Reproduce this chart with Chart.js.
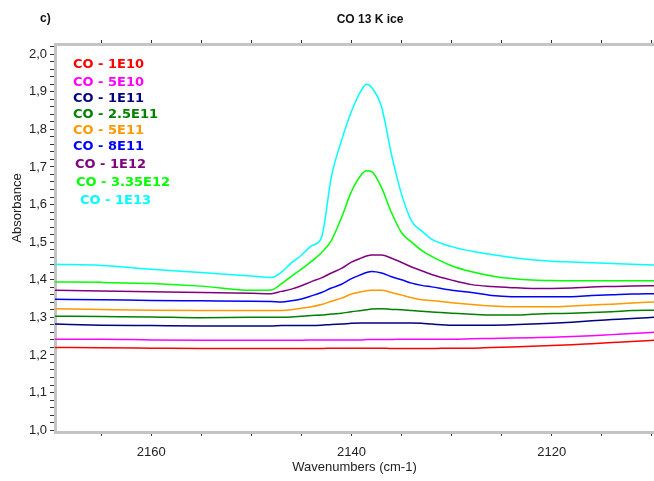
<!DOCTYPE html>
<html>
<head>
<meta charset="utf-8">
<script src="https://cdn.jsdelivr.net/npm/chart.js@4.4.1/dist/chart.umd.min.js"></script>
<style>
  body { margin: 0; background: #fff; }
  #chart { display: block; }
</style>
</head>
<body>
<canvas id="chart" width="654" height="481"></canvas>
<script>
// Spectrum data (absorbance vs wavenumber)
const wavenumbers = [2169.6, 2165, 2160, 2155, 2150, 2148, 2147, 2146, 2145, 2144, 2143, 2142, 2141, 2140, 2139, 2138.5, 2138, 2137, 2136, 2135, 2134, 2133, 2132, 2130, 2128, 2126, 2124, 2122, 2120, 2118, 2116, 2114, 2112, 2109.8];

const co1e10 = [1.220, 1.219, 1.218, 1.217, 1.217, 1.217, 1.217, 1.217, 1.217, 1.217, 1.217, 1.218, 1.218, 1.218, 1.218, 1.218, 1.218, 1.218, 1.217, 1.217, 1.217, 1.217, 1.217, 1.218, 1.218, 1.220, 1.221, 1.223, 1.225, 1.227, 1.230, 1.233, 1.236, 1.239];
const co5e10 = [1.242, 1.242, 1.240, 1.239, 1.239, 1.239, 1.239, 1.239, 1.239, 1.240, 1.240, 1.240, 1.240, 1.240, 1.240, 1.241, 1.241, 1.241, 1.241, 1.242, 1.242, 1.242, 1.242, 1.242, 1.243, 1.244, 1.245, 1.246, 1.247, 1.249, 1.251, 1.254, 1.257, 1.260];
const co1e11 = [1.282, 1.279, 1.278, 1.277, 1.277, 1.277, 1.278, 1.278, 1.278, 1.278, 1.279, 1.281, 1.282, 1.284, 1.285, 1.285, 1.285, 1.285, 1.285, 1.285, 1.285, 1.284, 1.282, 1.279, 1.279, 1.279, 1.280, 1.282, 1.284, 1.287, 1.291, 1.294, 1.297, 1.300];
const co25e11 = [1.303, 1.302, 1.301, 1.299, 1.300, 1.300, 1.300, 1.301, 1.303, 1.305, 1.306, 1.309, 1.311, 1.315, 1.318, 1.320, 1.322, 1.323, 1.321, 1.320, 1.318, 1.316, 1.314, 1.311, 1.308, 1.306, 1.306, 1.308, 1.310, 1.311, 1.313, 1.315, 1.318, 1.319];
const co5e11 = [1.323, 1.321, 1.319, 1.318, 1.318, 1.318, 1.318, 1.320, 1.324, 1.328, 1.334, 1.343, 1.351, 1.362, 1.368, 1.371, 1.372, 1.372, 1.366, 1.359, 1.352, 1.347, 1.345, 1.339, 1.334, 1.330, 1.328, 1.328, 1.328, 1.330, 1.333, 1.335, 1.338, 1.341];
const co8e11 = [1.348, 1.347, 1.345, 1.344, 1.343, 1.342, 1.341, 1.344, 1.349, 1.357, 1.366, 1.378, 1.388, 1.403, 1.414, 1.419, 1.422, 1.418, 1.408, 1.400, 1.391, 1.385, 1.381, 1.372, 1.366, 1.358, 1.355, 1.355, 1.355, 1.355, 1.358, 1.360, 1.362, 1.363];
const co1e12 = [1.372, 1.370, 1.368, 1.366, 1.364, 1.363, 1.369, 1.375, 1.384, 1.395, 1.405, 1.418, 1.430, 1.447, 1.458, 1.463, 1.466, 1.466, 1.457, 1.446, 1.434, 1.424, 1.414, 1.399, 1.387, 1.382, 1.379, 1.377, 1.377, 1.378, 1.381, 1.382, 1.383, 1.384];
const co335e12 = [1.394, 1.393, 1.390, 1.383, 1.372, 1.373, 1.389, 1.409, 1.428, 1.449, 1.472, 1.505, 1.565, 1.635, 1.680, 1.690, 1.688, 1.645, 1.578, 1.525, 1.500, 1.478, 1.462, 1.437, 1.421, 1.410, 1.403, 1.399, 1.398, 1.397, 1.397, 1.397, 1.397, 1.397];
const co1e13 = [1.441, 1.438, 1.428, 1.419, 1.410, 1.406, 1.420, 1.445, 1.465, 1.490, 1.512, 1.675, 1.770, 1.848, 1.905, 1.920, 1.912, 1.860, 1.732, 1.627, 1.556, 1.530, 1.508, 1.488, 1.476, 1.467, 1.459, 1.453, 1.449, 1.447, 1.445, 1.443, 1.441, 1.439];

const seriesNames = ["CO - 1E10", "CO - 5E10", "CO - 1E11", "CO - 2.5E11", "CO - 5E11", "CO - 8E11", "CO - 1E12", "CO - 3.35E12", "CO - 1E13"];
const seriesValues = [co1e10, co5e10, co1e11, co25e11, co5e11, co8e11, co1e12, co335e12, co1e13];
const seriesColors = ["#ff0000", "#ff00ff", "#000080", "#008000", "#ff9900", "#0000ff", "#800080", "#00ff00", "#00ffff"];

const chartTitle = "CO 13 K ice";
const panelLabel = "c)";
const xTitle = "Wavenumbers (cm-1)";
const yTitle = "Absorbance";

// legend text positions (left x, middle y)
const legendX = [73, 73, 73, 73, 73, 73, 75, 76, 80];
const legendY = [65, 83, 99, 115, 131, 147, 165, 183, 201];

const datasets = seriesValues.map((vals, i) => ({
  label: seriesNames[i],
  data: vals.map((v, j) => ({ x: wavenumbers[j], y: v })),
  borderColor: seriesColors[i],
  borderWidth: 1.5,
  pointRadius: 0,
  cubicInterpolationMode: "monotone",
  fill: false,
}));

// draws the panel label, title, y axis title and the coloured legend text
const textPlugin = {
  id: "textPlugin",
  afterDraw(chart) {
    const ctx = chart.ctx;
    ctx.save();
    ctx.fillStyle = "#111";
    ctx.textBaseline = "middle";
    ctx.font = "bold 12px 'Liberation Sans', Arial, sans-serif";
    ctx.textAlign = "left";
    ctx.fillText(panelLabel, 40, 19);
    ctx.textAlign = "center";
    ctx.fillText(chartTitle, 370, 20);

    ctx.save();
    ctx.font = "13px 'Liberation Sans', Arial, sans-serif";
    ctx.fillStyle = "#222";
    ctx.translate(17, 208);
    ctx.rotate(-Math.PI / 2);
    ctx.fillText(yTitle, 0, 0);
    ctx.restore();

    ctx.textAlign = "left";
    ctx.font = "bold 13px 'DejaVu Sans', sans-serif";
    seriesNames.forEach((name, i) => {
      ctx.fillStyle = seriesColors[i];
      ctx.fillText(name, legendX[i], legendY[i]);
    });
    ctx.restore();
  },
};

// no side padding for the horizontal axes, so the plot runs to the right edge
function fitX(height) {
  return (scale) => {
    scale.height = height;
    scale.paddingLeft = 0;
    scale.paddingRight = 0;
  };
}

Chart.defaults.font.family = "'Liberation Sans', Arial, sans-serif";
Chart.defaults.color = "#222";

const ctx = document.getElementById("chart").getContext("2d");
new Chart(ctx, {
  type: "line",
  data: { datasets: datasets },
  options: {
    responsive: false,
    animation: false,
    layout: { padding: { top: 40, right: 0, left: 0, bottom: 0 } },
    plugins: {
      legend: { display: false },
      title: { display: false },
      tooltip: { enabled: false },
    },
    scales: {
      x: {
        type: "linear",
        position: "bottom",
        reverse: true,
        min: 2109.8,
        max: 2169.6,
        afterFit: fitX(49),
        ticks: {
          stepSize: 5,
          includeBounds: false,
          autoSkip: false,
          maxRotation: 0,
          padding: 9,
          font: { size: 13 },
          callback: (v) => (v % 20 === 0 ? String(v) : ""),
        },
        grid: { drawOnChartArea: false, tickLength: 4, tickColor: "#333" },
        border: { color: "#c4c4c4", width: 3 },
        title: { display: true, text: xTitle, font: { size: 13 }, padding: { bottom: 6 } },
      },
      xTop: {
        type: "linear",
        position: "top",
        reverse: true,
        min: 2109.8,
        max: 2169.6,
        afterFit: fitX(4),
        ticks: { display: false, stepSize: 5, includeBounds: false, autoSkip: false },
        grid: { drawOnChartArea: false, tickLength: 4, tickColor: "#333" },
        border: { color: "#c4c4c4", width: 3 },
      },
      y: {
        type: "linear",
        min: 0.995,
        max: 2.027,
        afterFit: (scale) => { scale.width = 55; },
        ticks: {
          stepSize: 0.02,
          includeBounds: false,
          autoSkip: false,
          padding: 3,
          font: { size: 13 },
          callback: (v) => (Math.abs(v * 10 - Math.round(v * 10)) < 1e-6 ? v.toFixed(1).replace(".", ",") : ""),
        },
        grid: { drawOnChartArea: false, tickLength: 5, tickColor: "#333" },
        border: { color: "#c4c4c4", width: 3 },
      },
    },
  },
  plugins: [textPlugin],
});
</script>
</body>
</html>
